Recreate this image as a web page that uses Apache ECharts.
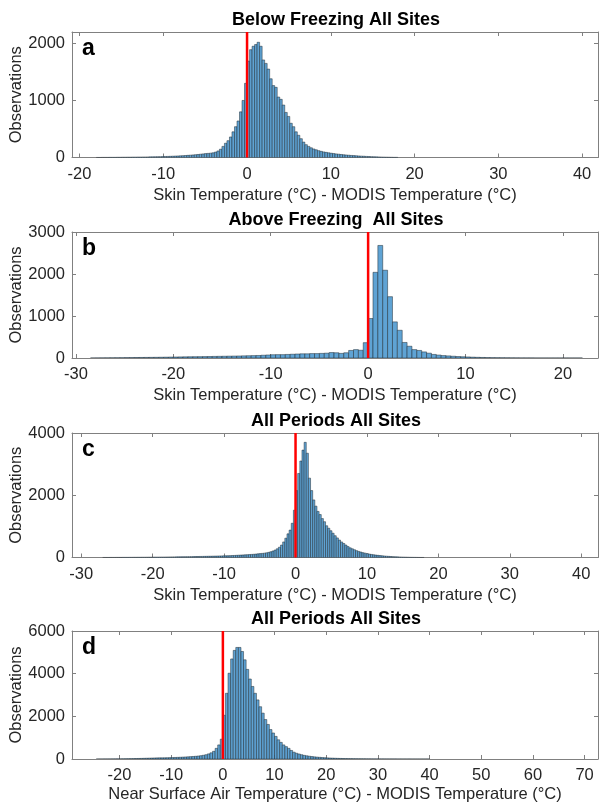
<!DOCTYPE html>
<html>
<head>
<meta charset="utf-8">
<script src="https://cdn.jsdelivr.net/npm/echarts@6/dist/echarts.min.js"></script>
<style>
  html, body { margin: 0; padding: 0; background: #fff; }
  #chart { width: 599px; height: 807px; }
</style>
</head>
<body>
<div id="chart"></div>
<script>
// Histogram bins: first edge, bin width, counts per bin
const aStart = -18.0, aWidth = 0.3;
const aCounts = [
  1, 1, 2, 2, 2, 3, 3, 3, 4, 4,
  5, 5, 6, 6, 7, 7, 8, 8, 9, 9, 10, 11, 12, 13, 14, 15, 16, 18, 19, 21,
  23, 25, 27, 29, 32, 35, 38, 41, 45, 49, 53, 58, 63, 68, 72, 76,
  82, 95, 115, 145, 195, 250, 295, 360, 450, 540, 640, 800, 1000, 1300,
  1690, 1890, 1950, 1980, 2020, 1950, 1710, 1650, 1550, 1380, 1260, 1230, 1060, 1020, 920,
  790, 720, 600, 540, 450, 390, 330, 270, 225, 195, 170, 150, 135, 120, 108,
  98, 90, 82, 75, 69, 63, 58, 53, 48, 44, 40, 36, 33, 30, 27,
  24, 22, 19, 17, 15, 13, 11, 10, 8, 7, 6, 5, 4, 3, 3
];

const bStart = -28.5, bWidth = 0.5;
const bCounts = [
  1, 2, 3, 4, 5, 6, 7, 9, 10, 12, 13, 14, 15, 16, 18, 20, 22, 24, 26, 28,
  30, 31, 32, 34, 36, 38, 40, 42, 44, 46, 48, 51, 54, 57, 60, 66, 72, 78, 80, 80,
  85, 90, 95, 100, 100, 105, 105, 110, 115, 130, 125, 110, 125, 180, 200, 185, 365,
  940, 2040, 2680, 2090, 1460, 860, 660, 370, 280, 200, 180, 145, 115, 85, 70,
  58, 50, 42, 35, 30, 25, 20, 16, 13, 10, 8, 7, 6, 5, 4,
  3, 2, 2, 2, 1, 1, 1, 1, 1, 1, 1, 1, 1, 1
];

const cStart = -27.0, cWidth = 0.3;
const cCounts = [
  2, 2, 2, 3, 3, 3, 4, 4, 4, 5, 5, 5, 6, 6, 7, 7, 8, 8, 9, 9,
  10, 11, 11, 12, 13, 13, 14, 15, 15, 16, 17, 18, 19, 20, 21, 22, 23, 24, 25, 26,
  27, 28, 29, 31, 32, 34, 35, 37, 38, 40, 41, 43, 45, 47, 49, 51, 53, 55, 57, 60,
  63, 66, 70, 74, 78, 82, 86, 90, 94, 99, 104, 110, 118, 125, 132, 140, 150, 165, 185, 210,
  240, 280, 330, 400, 500, 620, 760, 880, 1100, 1520,
  2150, 2700, 3100, 3450, 3700, 3350, 2550, 2150, 1850, 1650, 1480, 1380, 1250, 1150, 1020,
  940, 860, 780, 700, 630, 560, 500, 450, 400, 350, 310, 280, 250, 220, 195,
  175, 155, 140, 125, 110, 98, 88, 78, 70, 62, 55, 48, 42, 37, 32,
  28, 24, 21, 18, 15, 13, 11, 9, 7, 6, 5, 4, 3, 2, 2
];

const dStart = -24.5, dWidth = 0.5;
const dCounts = [
  1, 2, 2, 3, 3, 4, 5, 6, 7, 8, 10, 12, 14, 16, 19, 22, 25, 28, 32, 36,
  40, 44, 48, 52, 55, 55, 57, 60, 64, 68, 72, 77, 82, 88, 95, 102, 110, 118, 128, 140,
  155, 175, 200, 240, 290, 360, 500, 660, 930,
  2050, 3080, 4020, 4690, 5090, 5230, 5230, 5040, 4650, 4200, 3750, 3400, 3080, 2770, 2450,
  2150, 1850, 1620, 1380, 1220, 1060, 900, 780, 660, 580, 500, 400, 320, 270, 235,
  200, 170, 150, 130, 115, 100, 88, 78, 68, 60, 52, 45, 40, 35, 30,
  26, 23, 20, 18, 16, 14, 12, 11, 10, 9, 8, 7, 6, 5, 5,
  4, 4, 4, 3, 3, 3, 3, 2, 2, 2, 2, 2, 2, 1, 1, 1, 1, 1, 1, 1
];

// axis ranges and tick labels
const xRanges = [[-20.9, 41.9], [-30.4, 23.6], [-31.3, 42.35], [-29.2, 72.6]];
const xTicks = [
  [-20, -10, 0, 10, 20, 30, 40],
  [-30, -20, -10, 0, 10, 20],
  [-30, -20, -10, 0, 10, 20, 30, 40],
  [-20, -10, 0, 10, 20, 30, 40, 50, 60, 70]
];
const yMax = [2200, 3000, 4000, 6000];
const yTicks = [
  [0, 1000, 2000],
  [0, 1000, 2000, 3000],
  [0, 2000, 4000],
  [0, 2000, 4000, 6000]
];
const titles = ['Below Freezing All Sites', 'Above Freezing  All Sites', 'All Periods All Sites', 'All Periods All Sites'];
const letters = ['a', 'b', 'c', 'd'];
const xNames = [
  'Skin Temperature (°C) - MODIS Temperature (°C)',
  'Skin Temperature (°C) - MODIS Temperature (°C)',
  'Skin Temperature (°C) - MODIS Temperature (°C)',
  'Near Surface Air Temperature (°C) - MODIS Temperature (°C)'
];
const freezeLine = 0;

const hists = [
  [aStart, aWidth, aCounts],
  [bStart, bWidth, bCounts],
  [cStart, cWidth, cCounts],
  [dStart, dWidth, dCounts]
];

// layout
const FONT = 'Liberation Sans, Arial, Helvetica, sans-serif';
const AXFS = 16.5;
const boxes = [
  { top: 32, height: 125.5 },
  { top: 232, height: 126 },
  { top: 433, height: 124.5 },
  { top: 631, height: 128 }
];
const lineCol = '#808080';
const textCol = '#262626';

const chart = echarts.init(document.getElementById('chart'), null, { renderer: 'canvas' });

const grid = [], xAxis = [], yAxis = [], series = [], graphic = [];

boxes.forEach(function (b, i) {
  grid.push({ left: 72, right: 1, top: b.top, height: b.height, containLabel: false, outerBoundsMode: 'none' });

  const tickCommon = { show: true, inside: true, length: 4, lineStyle: { color: lineCol, width: 1 } };

  xAxis.push({
    type: 'value', gridIndex: i, position: 'bottom',
    min: xRanges[i][0], max: xRanges[i][1],
    axisLine: { show: true, onZero: false, lineStyle: { color: lineCol, width: 1 } },
    axisTick: Object.assign({ customValues: xTicks[i] }, tickCommon),
    axisLabel: { customValues: xTicks[i], color: textCol, fontSize: AXFS, fontFamily: FONT, margin: 8,
      formatter: function (v) { return String(v); } },
    splitLine: { show: false },
    name: xNames[i], nameLocation: 'middle', nameGap: i === 3 ? 27 : 29, nameMoveOverlap: false,
    nameTextStyle: { color: textCol, fontSize: AXFS, fontFamily: FONT }
  });
  xAxis.push({
    type: 'value', gridIndex: i, position: 'top',
    min: xRanges[i][0], max: xRanges[i][1],
    axisLine: { show: true, onZero: false, lineStyle: { color: lineCol, width: 1 } },
    axisTick: Object.assign({ customValues: xTicks[i] }, tickCommon),
    axisLabel: { show: false },
    splitLine: { show: false }
  });

  yAxis.push({
    type: 'value', gridIndex: i, position: 'left',
    min: 0, max: yMax[i],
    axisLine: { show: true, onZero: false, lineStyle: { color: lineCol, width: 1 } },
    axisTick: Object.assign({ customValues: yTicks[i] }, tickCommon),
    axisLabel: { customValues: yTicks[i], color: textCol, fontSize: AXFS, fontFamily: FONT, margin: 7,
      formatter: function (v) { return String(v); } },
    splitLine: { show: false },
    name: 'Observations', nameLocation: 'middle', nameGap: 47, nameRotate: 90, nameMoveOverlap: false,
    nameTextStyle: { color: textCol, fontSize: AXFS, fontFamily: FONT }
  });
  yAxis.push({
    type: 'value', gridIndex: i, position: 'right',
    min: 0, max: yMax[i],
    axisLine: { show: true, onZero: false, lineStyle: { color: lineCol, width: 1 } },
    axisTick: Object.assign({ customValues: yTicks[i] }, tickCommon),
    axisLabel: { show: false },
    splitLine: { show: false }
  });

  const start = hists[i][0], w = hists[i][1], counts = hists[i][2];
  series.push({
    type: 'custom',
    xAxisIndex: i * 2, yAxisIndex: i * 2,
    clip: true,
    silent: true,
    data: counts.map(function (c, k) { return [start + k * w, start + (k + 1) * w, c]; }),
    encode: { x: [0, 1], y: 2 },
    renderItem: function (params, api) {
      const p0 = api.coord([api.value(0), 0]);
      const p1 = api.coord([api.value(1), api.value(2)]);
      return {
        type: 'rect',
        shape: { x: p0[0], y: p1[1], width: p1[0] - p0[0], height: p0[1] - p1[1] },
        style: { fill: '#5fa3d4', stroke: '#1f2a33', lineWidth: 0.5 }
      };
    }
  });

  // red line at 0
  series.push({
    type: 'line',
    xAxisIndex: i * 2, yAxisIndex: i * 2,
    data: [[freezeLine, 0], [freezeLine, yMax[i]]],
    symbol: 'none', silent: true, z: 5,
    lineStyle: { color: '#ff0000', width: 2.5 }
  });

  graphic.push({
    type: 'text', x: 336, y: b.top - 21,
    style: { text: titles[i], fontSize: 18, fontWeight: 'bold', fontFamily: FONT, fill: '#000', align: 'center', verticalAlign: 'top' }
  });
  graphic.push({
    type: 'text', x: 82, y: b.top + 5,
    style: { text: letters[i], fontSize: 23, fontWeight: 'bold', fontFamily: FONT, fill: '#000', align: 'left', verticalAlign: 'top' }
  });
});

chart.setOption({
  animation: false,
  backgroundColor: '#fff',
  grid: grid,
  xAxis: xAxis,
  yAxis: yAxis,
  series: series,
  graphic: graphic
});

window.addEventListener('resize', function () { chart.resize(); });
</script>
</body>
</html>
